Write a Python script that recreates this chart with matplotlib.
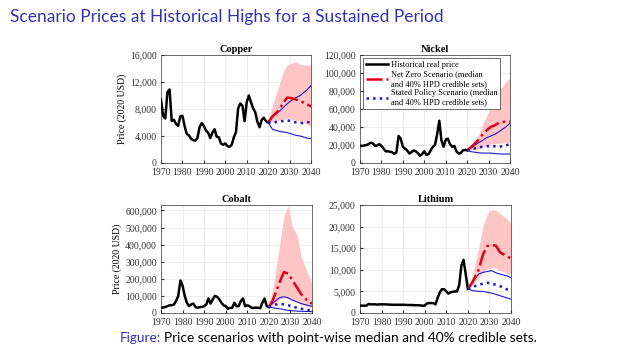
import numpy as np
import matplotlib.pyplot as plt
from matplotlib.ticker import FuncFormatter

years = np.arange(1970, 2021)

copper_hist = [9400, 7000, 6600, 10500, 10900, 6200, 6400, 5800, 5500, 6900,
               7000, 5500, 4300, 4100, 3600, 3400, 3300, 3700, 5300, 5900,
               5500, 4800, 4500, 3700, 4500, 5000, 3900, 3800, 2900, 2700,
               2900, 2500, 2400, 2700, 3800, 4600, 8100, 8800, 8500, 6200,
               9000, 10000, 9000, 8100, 7500, 6100, 5300, 6400, 6700, 6200, 6000]
nickel_hist = [19000, 19000, 19500, 20000, 21000, 22500, 22000, 19000, 19500, 21000,
               19000, 16000, 13000, 13000, 12500, 12000, 10000, 12000, 30000, 27000,
               18000, 16000, 14000, 10500, 12000, 14000, 13000, 11000, 8000, 10000,
               13000, 9000, 10000, 14000, 18000, 20000, 32000, 47000, 25000, 18000,
               26000, 27000, 21000, 18000, 19000, 13000, 10500, 11000, 14000, 14500, 14000]
cobalt_hist = [32000, 32000, 35000, 40000, 45000, 45000, 50000, 70000, 100000, 190000,
               160000, 100000, 60000, 40000, 50000, 55000, 35000, 30000, 35000, 35000,
               40000, 50000, 85000, 55000, 80000, 100000, 95000, 80000, 60000, 45000,
               40000, 25000, 30000, 30000, 60000, 40000, 40000, 70000, 85000, 40000,
               45000, 40000, 30000, 30000, 32000, 30000, 28000, 60000, 85000, 40000, 35000]
lithium_hist = [1700, 1700, 1700, 1700, 2100, 2000, 2000, 2000, 1950, 2000,
                2000, 2000, 2000, 1950, 1950, 1900, 1900, 1900, 1900, 1900,
                1900, 1900, 1850, 1850, 1850, 1800, 1800, 1800, 1750, 1700,
                1700, 2200, 2300, 2300, 2300, 2000, 3500, 4800, 5500, 5500,
                5000, 4500, 4800, 4900, 5000, 5000, 6500, 11000, 12300, 9000, 5600]

proj_years = [2020, 2022, 2025, 2027, 2029, 2031, 2033, 2035, 2038, 2040]

copper_nz = [6000, 6900, 7800, 8900, 9700, 9600, 9400, 9200, 8700, 8400]
copper_nz_hi = [6000, 8500, 11500, 13500, 14600, 14800, 15000, 14600, 14500, 14500]
copper_nz_lo = [6000, 6100, 6300, 6500, 6600, 6500, 6300, 6200, 5800, 5500]
copper_sp = [6000, 5900, 6200, 6200, 6300, 6200, 6000, 5900, 6000, 6100]
copper_sp_hi = [6000, 6800, 7600, 8200, 8800, 9300, 9700, 10000, 10800, 11500]
copper_sp_lo = [6000, 5000, 4700, 4600, 4500, 4300, 4100, 4000, 3700, 3600]

nickel_nz = [14000, 18000, 25000, 31000, 36000, 40000, 42000, 45000, 46000, 46000]
nickel_nz_hi = [14000, 20000, 30000, 42000, 52000, 62000, 72000, 80000, 90000, 95000]
nickel_nz_lo = [14000, 14500, 15500, 17500, 19500, 21000, 21500, 22000, 22500, 23000]
nickel_sp = [14000, 15500, 17000, 18000, 18500, 19000, 18500, 18000, 19500, 21000]
nickel_sp_hi = [14000, 17000, 22000, 25000, 28000, 30000, 32000, 35000, 40000, 44000]
nickel_sp_lo = [14000, 12500, 11500, 11000, 11000, 11000, 10500, 10000, 10000, 10000]

cobalt_nz = [35000, 80000, 180000, 240000, 230000, 190000, 150000, 110000, 70000, 55000]
cobalt_nz_hi = [35000, 150000, 400000, 570000, 630000, 500000, 460000, 330000, 230000, 170000]
cobalt_nz_lo = [35000, 45000, 80000, 90000, 85000, 75000, 65000, 50000, 38000, 30000]
cobalt_sp = [35000, 45000, 55000, 50000, 45000, 38000, 30000, 25000, 18000, 15000]
cobalt_sp_hi = [35000, 60000, 90000, 95000, 88000, 75000, 65000, 55000, 45000, 40000]
cobalt_sp_lo = [35000, 30000, 25000, 20000, 15000, 13000, 11000, 10000, 9000, 8000]

lithium_nz = [5600, 7000, 10000, 13500, 15500, 15700, 15600, 14000, 13200, 12600]
lithium_nz_hi = [5600, 8500, 15000, 20000, 23000, 24000, 23800, 23000, 21800, 20800]
lithium_nz_lo = [5600, 6500, 8000, 9500, 10300, 10600, 10300, 9800, 9300, 9000]
lithium_sp = [5600, 6000, 6500, 6800, 7000, 6800, 6500, 6200, 5500, 5000]
lithium_sp_hi = [5600, 7200, 9000, 9400, 9600, 9800, 9300, 9000, 8600, 8200]
lithium_sp_lo = [5600, 5200, 5000, 5000, 4800, 4600, 4300, 4000, 3500, 3200]

metals = [
    ("Copper", copper_hist, copper_nz, copper_nz_hi, copper_nz_lo,
     copper_sp, copper_sp_hi, copper_sp_lo, 16000, 4000),
    ("Nickel", nickel_hist, nickel_nz, nickel_nz_hi, nickel_nz_lo,
     nickel_sp, nickel_sp_hi, nickel_sp_lo, 120000, 20000),
    ("Cobalt", cobalt_hist, cobalt_nz, cobalt_nz_hi, cobalt_nz_lo,
     cobalt_sp, cobalt_sp_hi, cobalt_sp_lo, 632000, 100000),
    ("Lithium", lithium_hist, lithium_nz, lithium_nz_hi, lithium_nz_lo,
     lithium_sp, lithium_sp_hi, lithium_sp_lo, 25000, 5000),
]

plt.rcParams["font.family"] = ["Liberation Serif"]
fig = plt.figure(figsize=(6.2, 3.47), dpi=100)

# axes boxes in pixels (left, top, right, bottom)
boxes = [(161, 55, 311, 163), (360, 55, 510, 163),
         (161, 205, 312, 313), (360, 205, 511, 313)]
W, H = 620, 347
blue = "#1a1acc"
comma = FuncFormatter(lambda v, p: f"{int(v):,}")

for (name, hist, nz, nz_hi, nz_lo, sp, sp_hi, sp_lo, ymax, ystep), b in zip(metals, boxes):
    ax = fig.add_axes([b[0] / W, 1 - b[3] / H, (b[2] - b[0]) / W, (b[3] - b[1]) / H])
    ax.fill_between(proj_years, nz_lo, nz_hi, color="#ffc4c4", lw=0, zorder=1)
    h1, = ax.plot(years, hist, color="black", lw=1.8, zorder=4, label="Historical real price")
    ax.plot(proj_years, sp_hi, color=blue, lw=0.8, zorder=3)
    ax.plot(proj_years, sp_lo, color=blue, lw=0.8, zorder=3)
    h2, = ax.plot(proj_years, nz, color="#e0001a", lw=1.8, ls="-.", zorder=5,
                  label="Net Zero Scenario (median\nand 40% HPD credible sets)")
    h3, = ax.plot(proj_years, sp, color=blue, lw=1.8, ls=":", zorder=5,
                  label="Stated Policy Scenario (median\nand 40% HPD credible sets)")
    ax.set_xlim(1970, 2040)
    ax.set_ylim(0, ymax)
    ax.set_xticks(range(1970, 2041, 10))
    ax.set_yticks(np.arange(0, ymax + 1, ystep))
    ax.yaxis.set_major_formatter(comma)
    ax.grid(True, color="#e6e6e6", lw=0.5)
    ax.set_axisbelow(True)
    ax.tick_params(labelsize=7, length=2, direction="in", colors="#333333")
    ax.tick_params(axis="x", pad=3.5)
    ax.tick_params(axis="y", pad=3)
    for s in ax.spines.values():
        s.set_linewidth(0.5)
        s.set_color("#333333")
    ax.set_title(name, fontsize=7.5, fontweight="bold", pad=2)
    if name in ("Copper", "Cobalt"):
        ax.set_ylabel("Price (2020 USD)", fontsize=7, labelpad=2)
    if name == "Nickel":
        ax.legend(handles=[h1, h2, h3], loc="upper left", fontsize=6, frameon=True,
                  fancybox=False, edgecolor="#333333", framealpha=1, handlelength=2.6,
                  borderpad=0.3, labelspacing=0.2, handletextpad=0.4,
                  borderaxespad=0.4).get_frame().set_linewidth(0.5)

fig.text(10 / W, 1 - 17 / H, "Scenario Prices at Historical Highs for a Sustained Period",
         fontsize=12.5, color="#3333b2", family="Lato", va="center", ha="left")
fig.text(120 / W, 1 - 338 / H, "Figure:", fontsize=9.8, color="#3333b2", family="Lato",
         va="center", ha="left")
fig.text(164 / W, 1 - 338 / H, "Price scenarios with point-wise median and 40% credible sets.",
         fontsize=9.8, color="black", family="Lato", va="center", ha="left")

fig.savefig("out.png", dpi=100)
